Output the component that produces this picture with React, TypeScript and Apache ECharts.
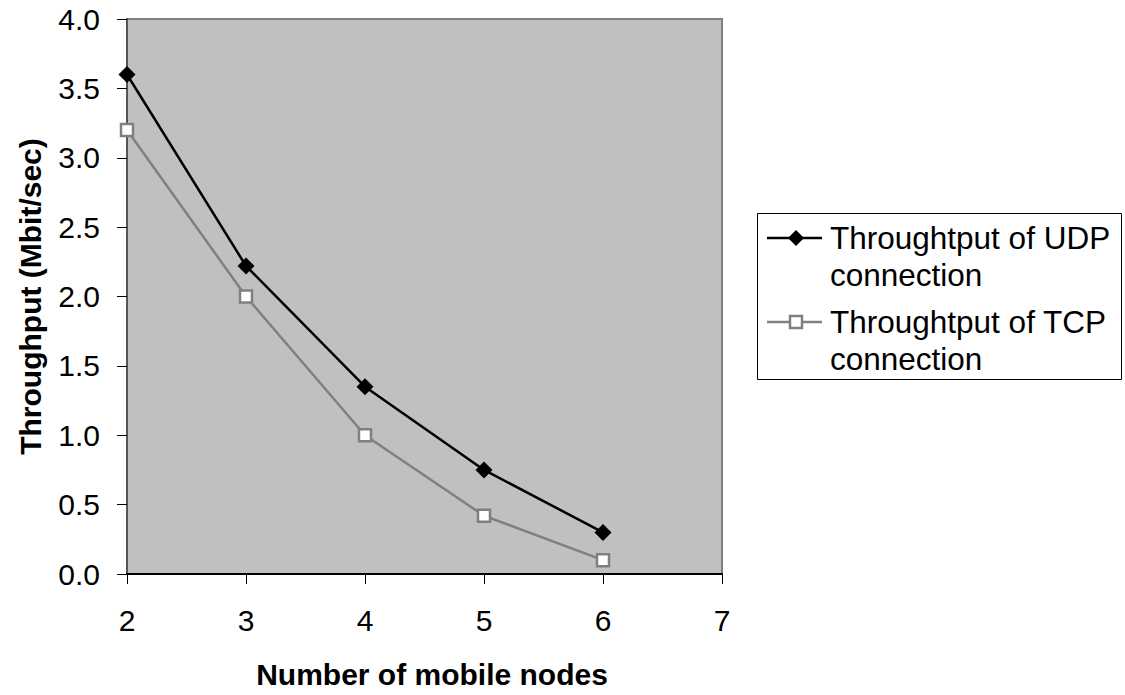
import React, { useEffect, useRef } from "react";
import * as echarts from "echarts";

// Number of mobile nodes on the x axis
const nodes = [2, 3, 4, 5, 6];
// Throughput in Mbit/sec
const udpThroughput = [3.6, 2.22, 1.35, 0.75, 0.3];
const tcpThroughput = [3.2, 2.0, 1.0, 0.42, 0.1];

const seriesNames = ["Throughtput of UDP\nconnection", "Throughtput of TCP\nconnection"];
const xTitle = "Number of mobile nodes";
const yTitle = "Throughput (Mbit/sec)";

const FONT = "'Liberation Sans', Arial, sans-serif";
const UDP_COLOR = "#000000";
const TCP_COLOR = "#808080";

function legendEntry(i: number, y: number) {
  const isUdp = i === 0;
  const color = isUdp ? UDP_COLOR : TCP_COLOR;
  const marker = isUdp
    ? {
        type: "polygon",
        shape: { points: [[796, y - 8], [804, y], [796, y + 8], [788, y]] },
        style: { fill: "#000" },
      }
    : {
        type: "rect",
        shape: { x: 790, y: y - 6, width: 12, height: 12 },
        style: { fill: "#fff", stroke: TCP_COLOR, lineWidth: 2.5 },
      };
  return [
    {
      type: "line",
      shape: { x1: 767, y1: y, x2: 822, y2: y },
      style: { stroke: color, lineWidth: 2.5 },
    },
    marker,
    {
      type: "text",
      x: 830,
      y: y - 19,
      style: {
        text: seriesNames[i],
        font: `31.5px ${FONT}`,
        fill: "#000",
        lineHeight: 37,
        verticalAlign: "top",
      },
    },
  ];
}

export default function App() {
  const ref = useRef<HTMLDivElement>(null);

  useEffect(() => {
    if (!ref.current) return;
    const chart = echarts.init(ref.current, undefined, { renderer: "svg" });
    chart.setOption({
      animation: false,
      backgroundColor: "#ffffff",
      textStyle: { fontFamily: FONT },
      grid: { left: 127, right: 403, top: 19, bottom: 121, backgroundColor: "#c0c0c0", show: true, borderColor: "#808080", borderWidth: 2 },
      xAxis: {
        type: "value",
        min: 2,
        max: 7,
        interval: 1,
        name: xTitle,
        nameLocation: "middle",
        nameGap: 85,
        nameTextStyle: { fontSize: 30, fontWeight: "bold", color: "#000", padding: [0, 0, 0, 15] },
        axisLine: { show: true, onZero: false, lineStyle: { color: "#000", width: 2 } },
        axisTick: { show: true, length: 10, lineStyle: { color: "#000", width: 1 } },
        axisLabel: { fontSize: 30, color: "#000", margin: 31 },
        splitLine: { show: false },
      },
      yAxis: {
        type: "value",
        min: 0,
        max: 4,
        interval: 0.5,
        name: yTitle,
        nameLocation: "middle",
        nameGap: 82,
        nameTextStyle: { fontSize: 30, fontWeight: "bold", color: "#000" },
        axisLine: { show: true, lineStyle: { color: "#555", width: 2 } },
        axisTick: { show: true, length: 10, lineStyle: { color: "#000", width: 1 } },
        axisLabel: { fontSize: 30, color: "#000", margin: 27, formatter: (v: number) => v.toFixed(1) },
        splitLine: { show: false },
      },
      series: [
        {
          name: seriesNames[0],
          type: "line",
          data: nodes.map((n, i) => [n, udpThroughput[i]]),
          symbol: "diamond",
          symbolSize: 17,
          lineStyle: { color: UDP_COLOR, width: 2.5 },
          itemStyle: { color: "#000", borderWidth: 0 },
          z: 3,
        },
        {
          name: seriesNames[1],
          type: "line",
          data: nodes.map((n, i) => [n, tcpThroughput[i]]),
          symbol: "rect",
          symbolSize: 12,
          lineStyle: { color: TCP_COLOR, width: 2.5 },
          itemStyle: { color: "#ffffff", borderColor: TCP_COLOR, borderWidth: 2.5 },
          z: 2,
        },
      ],
      graphic: [
        {
          type: "rect",
          shape: { x: 757.5, y: 213.5, width: 364, height: 166 },
          style: { fill: "#fff", stroke: "#000", lineWidth: 1 },
        },
        ...legendEntry(0, 238),
        ...legendEntry(1, 322),
      ],
    });
    return () => chart.dispose();
  }, []);

  return (
    <div
      ref={ref}
      style={{ position: "fixed", left: 0, top: 0, width: 1125, height: 695 }}
    />
  );
}
